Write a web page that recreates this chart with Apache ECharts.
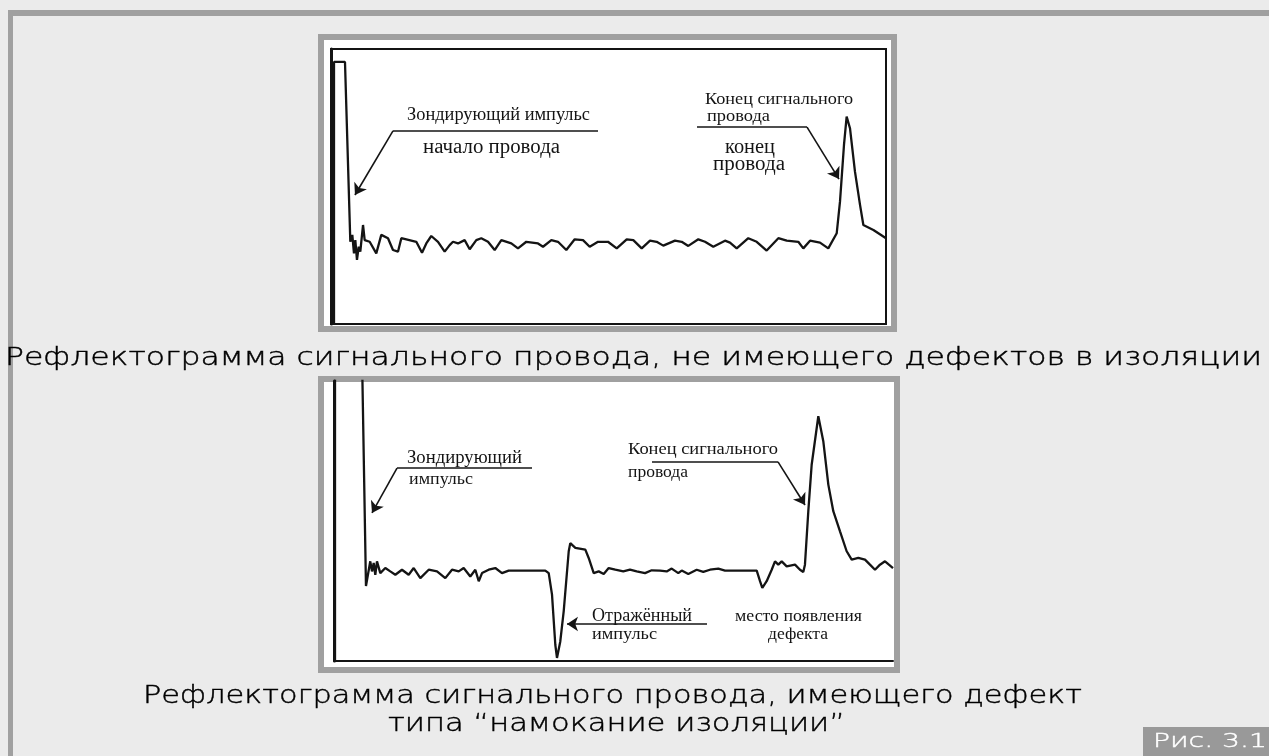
<!DOCTYPE html>
<html>
<head>
<meta charset="utf-8">
<title>Рис. 3.1</title>
<script src="https://cdn.jsdelivr.net/npm/echarts@6/dist/echarts.min.js"></script>
<style>
html, body { margin: 0; padding: 0; background: #ebebeb; }
#main { width: 1269px; height: 756px; }
</style>
</head>
<body>
<div id="main"></div>
<script>
// рефлектограмма 1: провод без дефектов (x 0..1000, амплитуда 0..100)
var cleanTrace = [
    [5.4, 0], [5.4, 95.3], [25.2, 95.3], [34.8, 29.9], [38.4, 32.4], [41.4, 25.7], [43.8, 30.5],
    [46.8, 23.3], [49.9, 28.1], [52.8, 26.3], [57.7, 36.0], [60.7, 30.5], [69.7, 29.9], [81.6, 25.7],
    [90.6, 32.4], [102.7, 31.2], [111.7, 26.9], [120.7, 26.3], [126.7, 31.2], [153.7, 29.9],
    [164.0, 25.9], [171.7, 29.3], [180.7, 32.0], [192.8, 29.9], [204.8, 26.3], [213.8, 28.7],
    [219.8, 29.9], [228.8, 29.3], [240.8, 30.5], [249.9, 27.2], [261.8, 30.5], [270.8, 31.2],
    [282.9, 29.9], [294.9, 26.9], [306.9, 30.5], [324.9, 29.3], [336.9, 27.5], [351.9, 29.9],
    [373.0, 29.3], [382.0, 28.1], [397.0, 30.5], [409.0, 29.9], [424.0, 26.9], [439.1, 30.8],
    [454.1, 30.5], [466.1, 28.1], [481.1, 29.9], [499.1, 29.9], [514.8, 27.5], [532.8, 30.8],
    [544.7, 30.5], [559.8, 27.5], [574.8, 30.3], [586.8, 29.9], [598.7, 28.5], [619.8, 30.3],
    [631.9, 29.9], [643.8, 28.4], [661.8, 30.8], [673.9, 29.9], [688.8, 28.1], [709.9, 30.3],
    [718.9, 29.6], [731.0, 27.5], [751.9, 31.2], [767.0, 29.9], [785.0, 26.7], [806.0, 31.2],
    [821.1, 30.3], [842.0, 29.9], [851.0, 27.5], [863.1, 30.3], [881.1, 29.6], [896.0, 27.5],
    [911.2, 33.0], [917.1, 44.5], [924.3, 65.1], [929.1, 75.4], [935.1, 71.2], [944.1, 55.4],
    [953.2, 43.3], [959.2, 36.0], [977.3, 34.2], [1000, 31.2]
];

// рефлектограмма 2: намокание изоляции (импульс выходит за верх шкалы)
var wetTrace = [
    [1.8, 0], [1.8, 130], [48.3, 130], [57.2, 26.8], [64.9, 35.6], [68.0, 32.0], [71.0, 35.0],
    [73.9, 30.8], [76.9, 35.6], [82.8, 31.4], [91.8, 33.2], [100.7, 32.0], [109.7, 30.8],
    [121.6, 32.6], [133.6, 30.8], [142.6, 33.2], [154.4, 29.6], [169.4, 32.6], [184.3, 32.0],
    [199.1, 29.6], [211.1, 32.6], [223.1, 32.0], [232.0, 33.2], [243.8, 30.2], [252.8, 32.6],
    [258.9, 28.5], [264.8, 31.4], [276.7, 32.6], [288.6, 33.2], [300.5, 31.4], [312.5, 32.3],
    [336.3, 32.3], [378.0, 32.3], [384.1, 31.4], [390.0, 23.7], [395.9, 5.8], [398.9, 1.1],
    [404.8, 7.0], [410.9, 17.7], [419.9, 39.2], [422.7, 42.1], [431.7, 40.4], [449.6, 39.8],
    [455.6, 36.8], [464.6, 31.4], [473.5, 32.0], [482.5, 31.1], [491.4, 33.2], [503.2, 32.6],
    [517.5, 32.0], [529.5, 32.6], [541.5, 32.0], [556.4, 31.4], [568.3, 32.4], [583.2, 32.3],
    [595.2, 32.0], [604.1, 33.0], [615.9, 31.4], [622.0, 32.3], [633.8, 31.1], [648.8, 32.6],
    [660.6, 31.8], [672.6, 32.6], [687.5, 33.0], [699.5, 32.3], [756.2, 32.3], [762.1, 28.5],
    [766.2, 26.1], [774.0, 28.5], [783.0, 32.6], [788.9, 35.6], [794.8, 34.4], [800.9, 35.6],
    [809.8, 33.8], [824.7, 34.4], [833.6, 32.6], [839.5, 31.8], [842.5, 34.4], [848.5, 53.5],
    [854.5, 70.1], [866.4, 87.4], [875.3, 78.5], [884.3, 63.0], [893.2, 53.5], [905.2, 46.3],
    [917.1, 39.2], [926.1, 36.2], [937.9, 36.8], [949.9, 36.2], [958.8, 34.4], [967.8, 32.6],
    [976.7, 34.4], [985.7, 35.6], [991.6, 34.6], [1000, 33.2]
];

// выноски (ломаные со стрелкой на конце), в единицах осей
var cleanArrows = [
    [[481.1, 70.2], [111.7, 70.2], [43.2, 46.9]],
    [[659.5, 71.6], [857.7, 71.6], [915.3, 52.7]]
];
var wetArrows = [
    [[354.2, 68.9], [112.7, 68.9], [68.0, 52.9]],
    [[568.9, 71.1], [794.3, 71.1], [842.6, 55.7]],
    [[667.3, 13.2], [416.8, 13.2]]
];

// подписи
var captionTop = 'Рефлектограмма сигнального провода, не имеющего дефектов в изоляции';
var captionBottom = ['Рефлектограмма сигнального провода, имеющего дефект', 'типа “намокание изоляции”'];
var figLabel = 'Рис. 3.1';

var INK = '#141414', FRAME = '#a0a0a0';
var measureCtx = document.createElement('canvas').getContext('2d');

//коэффициент растяжки текста по ширине
function fitScale(text, font, width){
    measureCtx.font = font;
    return width / measureCtx.measureText(text).width;
}

//ломаная -> отрезки markLine, стрелка только на последнем
function arrowSegments(lines){
    var res = [];
    for(var i = 0; i < lines.length; i++){
        var pts = lines[i];
        for(var j = 0; j < pts.length - 1; j++){
            var last = (j == pts.length - 2);
            res.push([
                {coord: pts[j], symbol: 'none'},
                {coord: pts[j + 1], symbol: last ? 'arrow' : 'none'}
            ]);
        }
    }
    return res;
}

//текст выноски (serif)
function note(text, x, y, size, width){
    var font = size + 'px "Liberation Serif"';
    return {
        type: 'text', x: x, y: y, z: 100,
        scaleX: width ? fitScale(text, font, width) : 1,
        style: {text: text, font: font, fill: INK, align: 'left', verticalAlign: 'middle'}
    };
}

var capFont = '200 24px "DejaVu Sans"';

//подпись, растянутая до заданной ширины
function caption(text, x, y, width){
    return {
        type: 'text', x: x, y: y, z: 100, scaleX: fitScale(text, capFont, width),
        style: {text: text, font: capFont, fill: '#000', stroke: '#000', lineWidth: 0.4, align: 'left', verticalAlign: 'middle'}
    };
}

function traceSeries(data, idx, arrows){
    return {
        type: 'line', xAxisIndex: idx, yAxisIndex: idx,
        data: data, showSymbol: false, symbol: 'none', clip: true, z: 5,
        lineStyle: {color: INK, width: 2.3},
        markLine: {
            silent: true, symbol: ['none', 'arrow'], symbolSize: 11,
            lineStyle: {color: INK, width: 1.6, type: 'solid'},
            label: {show: false},
            data: arrowSegments(arrows)
        }
    };
}

function valueAxis(min, max, gridIndex, line){
    return {
        type: 'value', gridIndex: gridIndex, min: min, max: max,
        axisLabel: {show: false}, axisTick: {show: false}, splitLine: {show: false},
        axisLine: line ? {show: true, onZero: false, lineStyle: {color: INK, width: line}} : {show: false}
    };
}

var labelFont = '200 20px "DejaVu Sans"';

var option = {
    animation: false,
    backgroundColor: '#ebebeb',
    grid: [
        {left: 331, top: 49, width: 555, height: 275, show: true, borderColor: INK, borderWidth: 2, backgroundColor: 'transparent', z: 3},
        {left: 334, top: 381, width: 559, height: 280}
    ],
    xAxis: [valueAxis(0, 1000, 0, 0), valueAxis(0, 1000, 1, 2)],
    yAxis: [valueAxis(0, 100, 0, 3), valueAxis(0, 100, 1, 3)],
    series: [traceSeries(cleanTrace, 0, cleanArrows), traceSeries(wetTrace, 1, wetArrows)],
    graphic: [
        // внешняя рамка
        {type: 'rect', z: -10, shape: {x: 8, y: 10, width: 1261, height: 6}, style: {fill: FRAME}},
        {type: 'rect', z: -10, shape: {x: 8, y: 10, width: 5, height: 746}, style: {fill: FRAME}},
        // рамки рефлектограмм
        {type: 'rect', z: -10, shape: {x: 321, y: 37, width: 573, height: 292}, style: {fill: '#fff', stroke: FRAME, lineWidth: 6}},
        {type: 'rect', z: -10, shape: {x: 321, y: 379, width: 576, height: 291}, style: {fill: '#fff', stroke: FRAME, lineWidth: 6}},
        // выноски 1
        note('Зондирующий импульс', 407, 115, 18, 183),
        note('начало провода', 423, 148, 20, 137),
        note('Конец сигнального', 705, 100, 17, 148),
        note('провода', 707, 117, 16, 63),
        note('конец', 725, 148, 20, 50),
        note('провода', 713, 165, 20, 72),
        // выноски 2
        note('Зондирующий', 407, 458, 19, 115),
        note('импульс', 409, 480, 16, 64),
        note('Конец сигнального', 628, 450, 17, 150),
        note('провода', 628, 473, 16, 60),
        note('Отражённый', 592, 616, 18, 100),
        note('импульс', 592, 635, 16, 65),
        note('место появления', 735, 617, 16, 127),
        note('дефекта', 768, 635, 16, 60),
        // подписи
        caption(captionTop, 5, 359, 1257),
        caption(captionBottom[0], 143, 697, 939),
        caption(captionBottom[1], 388, 725, 457),
        {type: 'rect', z: 50, shape: {x: 1143, y: 727, width: 126, height: 29}, style: {fill: '#999'}},
        {
            type: 'text', x: 1153, y: 742, z: 100,
            scaleX: fitScale(figLabel, labelFont, 114),
            style: {text: figLabel, font: labelFont, fill: '#fff', stroke: '#fff', lineWidth: 0.4, align: 'left', verticalAlign: 'middle'}
        }
    ]
};

var chart = echarts.init(document.getElementById('main'), null, {renderer: 'canvas'});
chart.setOption(option);
</script>
</body>
</html>
